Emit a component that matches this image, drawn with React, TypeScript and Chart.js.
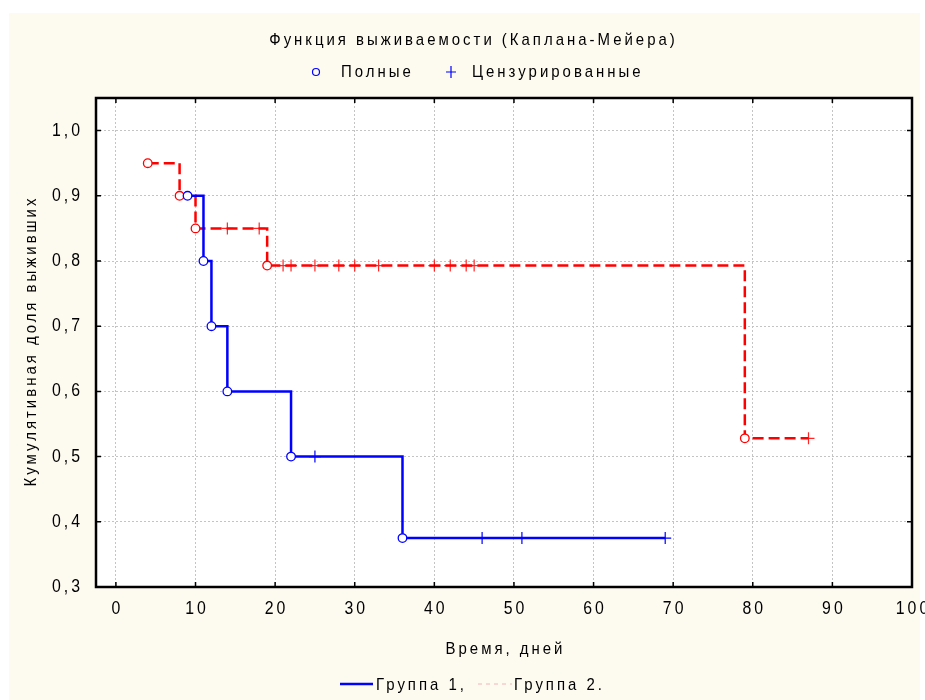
import React, { useEffect, useRef } from 'react';
import { Chart, registerables } from 'chart.js';

Chart.register(...registerables);

// ---- texts ----
const TITLE = 'Функция выживаемости (Каплана-Мейера)';
const X_TITLE = 'Время, дней';
const Y_TITLE = 'Кумулятивная доля выживших';
const MARKER_LABELS = ['Полные', 'Цензурированные'];
const GROUP_LABELS = ['Группа 1,', 'Группа 2.'];

// ---- ticks ----
const X_TICKS = [0, 10, 20, 30, 40, 50, 60, 70, 80, 90, 100];
const Y_TICKS = [0.3, 0.4, 0.5, 0.6, 0.7, 0.8, 0.9, 1.0];

// ---- group 1 (complete / censored) ----
const g1EventTimes = [9, 11, 12, 14, 22, 36];
const g1EventSurv = [0.9, 0.8, 0.7, 0.6, 0.5, 0.375];
const g1CensTimes = [25, 46, 51, 69];
const g1CensSurv = [0.5, 0.375, 0.375, 0.375];

// ---- group 2 (complete / censored) ----
const g2EventTimes = [4, 8, 10, 19, 79];
const g2EventSurv = [0.95, 0.9, 0.85, 0.793, 0.528];
const g2CensTimes = [14, 18, 21, 22, 25, 28, 30, 33, 40, 42, 44, 45, 87];
const g2CensSurv = [0.85, 0.85, 0.793, 0.793, 0.793, 0.793, 0.793, 0.793, 0.793, 0.793, 0.793, 0.793, 0.528];

const toPts = (xs: number[], ys: number[]) => xs.map((x, i) => ({ x, y: ys[i] }));
const curve = (ex: number[], ey: number[], cx: number[], cy: number[]) =>
  [...toPts(ex, ey), ...toPts(cx, cy)].sort((a, b) => a.x - b.x);

const FONT = '"Liberation Sans", Arial, sans-serif';
const BLUE = '#0000ff';
const RED = '#ff0000';
const CREAM = '#fdfaf0';
const SX = 0.88;
const LS = 3.4;

function drawText(
  ctx: CanvasRenderingContext2D,
  text: string,
  x: number,
  y: number,
  size: number,
  align: 'left' | 'center' | 'right',
  rotate = 0
) {
  ctx.save();
  ctx.font = `${size}px ${FONT}`;
  (ctx as any).letterSpacing = `${LS}px`;
  ctx.fillStyle = '#000';
  ctx.translate(x, y);
  if (rotate) ctx.rotate(rotate);
  ctx.scale(SX, 1);
  const w = ctx.measureText(text).width - LS;
  const dx = align === 'center' ? -w / 2 : align === 'right' ? -w : 0;
  ctx.textAlign = 'left';
  ctx.textBaseline = 'middle';
  ctx.fillText(text, dx, 0);
  ctx.restore();
}

const decorPlugin = {
  id: 'decor',
  beforeDraw(chart: any) {
    const { ctx, chartArea: a, width, height } = chart;
    ctx.save();
    ctx.fillStyle = '#ffffff';
    ctx.fillRect(0, 0, width, height);
    ctx.fillStyle = CREAM;
    ctx.fillRect(9, 13, 911, height - 13);
    ctx.fillStyle = '#ffffff';
    ctx.fillRect(a.left, a.top, a.right - a.left, a.bottom - a.top);
    ctx.restore();
  },
  beforeDatasetsDraw(chart: any) {
    const { ctx, chartArea: a, scales } = chart;
    ctx.save();
    ctx.strokeStyle = '#000';
    ctx.lineWidth = 1.5;
    ctx.beginPath();
    X_TICKS.forEach((v) => {
      const px = scales.x.getPixelForValue(v);
      ctx.moveTo(px, a.top);
      ctx.lineTo(px, a.top + 5);
      ctx.moveTo(px, a.bottom);
      ctx.lineTo(px, a.bottom - 5);
    });
    Y_TICKS.forEach((v) => {
      const py = scales.y.getPixelForValue(v);
      ctx.moveTo(a.left, py);
      ctx.lineTo(a.left + 5, py);
      ctx.moveTo(a.right, py);
      ctx.lineTo(a.right - 5, py);
    });
    ctx.stroke();
    ctx.lineWidth = 2.5;
    ctx.strokeRect(a.left, a.top, a.right - a.left, a.bottom - a.top);
    ctx.restore();

    // tick labels
    X_TICKS.forEach((v) => {
      drawText(ctx, String(v), scales.x.getPixelForValue(v), a.bottom + 22, 18, 'center');
    });
    Y_TICKS.forEach((v) => {
      drawText(ctx, v.toFixed(1).replace('.', ','), a.left - 16, scales.y.getPixelForValue(v), 18, 'right');
    });
  },
  afterDraw(chart: any) {
    const { ctx, chartArea: a } = chart;
    // title
    drawText(ctx, TITLE, 472, 40, 17, 'center');

    // marker legend
    ctx.save();
    ctx.strokeStyle = BLUE;
    ctx.lineWidth = 1.2;
    ctx.beginPath();
    ctx.arc(316, 72, 3.5, 0, Math.PI * 2);
    ctx.stroke();
    ctx.beginPath();
    ctx.moveTo(451, 66);
    ctx.lineTo(451, 78);
    ctx.moveTo(446, 72);
    ctx.lineTo(456, 72);
    ctx.stroke();
    ctx.restore();
    drawText(ctx, MARKER_LABELS[0], 341, 72, 17, 'left');
    drawText(ctx, MARKER_LABELS[1], 472, 72, 17, 'left');

    // axis titles
    drawText(ctx, X_TITLE, (a.left + a.right) / 2, 649, 17, 'center');
    drawText(ctx, Y_TITLE, 31, (a.top + a.bottom) / 2, 17, 'center', -Math.PI / 2);

    // group legend
    ctx.save();
    ctx.strokeStyle = BLUE;
    ctx.lineWidth = 2.5;
    ctx.beginPath();
    ctx.moveTo(340, 684);
    ctx.lineTo(373, 684);
    ctx.stroke();
    ctx.strokeStyle = '#f4b4b4';
    ctx.lineWidth = 1;
    ctx.setLineDash([4, 4]);
    ctx.beginPath();
    ctx.moveTo(478, 684);
    ctx.lineTo(512, 684);
    ctx.stroke();
    ctx.restore();
    drawText(ctx, GROUP_LABELS[0], 376, 685, 17, 'left');
    drawText(ctx, GROUP_LABELS[1], 514, 685, 17, 'left');
  },
};

export default function App() {
  const ref = useRef<HTMLCanvasElement>(null);

  useEffect(() => {
    const canvas = ref.current!;
    const chart = new Chart(canvas, {
      type: 'scatter',
      data: {
        datasets: [
          {
            label: 'g1 events',
            data: toPts(g1EventTimes, g1EventSurv),
            pointStyle: 'circle',
            pointRadius: 4.3,
            pointBorderWidth: 1.3,
            borderColor: BLUE,
            backgroundColor: '#ffffff',
            order: 1,
          },
          {
            label: 'g2 events',
            data: toPts(g2EventTimes, g2EventSurv),
            pointStyle: 'circle',
            pointRadius: 4.3,
            pointBorderWidth: 1.3,
            borderColor: RED,
            backgroundColor: '#ffffff',
            order: 1,
          },
          {
            label: 'g1 censored',
            data: toPts(g1CensTimes, g1CensSurv),
            pointStyle: 'cross',
            pointRadius: 6,
            pointBorderWidth: 1.2,
            borderColor: BLUE,
            backgroundColor: BLUE,
            order: 2,
          },
          {
            label: 'g2 censored',
            data: toPts(g2CensTimes, g2CensSurv),
            pointStyle: 'cross',
            pointRadius: 6,
            pointBorderWidth: 1.2,
            borderColor: 'rgba(255,0,0,0.85)',
            backgroundColor: RED,
            order: 2,
          },
          {
            label: 'Группа 1',
            data: curve(g1EventTimes, g1EventSurv, g1CensTimes, g1CensSurv),
            showLine: true,
            stepped: true,
            borderColor: BLUE,
            borderWidth: 2.5,
            pointRadius: 0,
            fill: false,
            order: 3,
          } as any,
          {
            label: 'Группа 2',
            data: curve(g2EventTimes, g2EventSurv, g2CensTimes, g2CensSurv),
            showLine: true,
            stepped: true,
            borderColor: RED,
            borderWidth: 2.5,
            borderDash: [11, 5],
            pointRadius: 0,
            fill: false,
            order: 3,
          } as any,
        ],
      },
      options: {
        responsive: false,
        animation: false,
        devicePixelRatio: 1,
        layout: { padding: { left: 0, top: 98, right: 13, bottom: 73 } },
        plugins: {
          legend: { display: false },
          title: { display: false },
          tooltip: { enabled: false },
        },
        scales: {
          x: {
            type: 'linear',
            min: -2.5,
            max: 100,
            afterBuildTicks: (s: any) => {
              s.ticks = X_TICKS.map((v) => ({ value: v }));
            },
            afterFit: (s: any) => {
              s.height = 40;
              s.paddingLeft = 0;
              s.paddingRight = 0;
            },
            ticks: { display: false },
            grid: { color: '#c4c4c4', lineWidth: 1, drawTicks: false },
            border: { display: false, dash: [2, 2] },
          },
          y: {
            type: 'linear',
            min: 0.3,
            max: 1.05,
            afterBuildTicks: (s: any) => {
              s.ticks = Y_TICKS.map((v) => ({ value: v }));
            },
            afterFit: (s: any) => {
              s.width = 96;
              s.paddingTop = 0;
              s.paddingBottom = 0;
            },
            ticks: { display: false },
            grid: { color: '#c4c4c4', lineWidth: 1, drawTicks: false },
            border: { display: false, dash: [2, 2] },
          },
        },
      },
      plugins: [decorPlugin],
    });
    return () => chart.destroy();
  }, []);

  return (
    <div style={{ position: 'absolute', left: 0, top: 0, width: 925, height: 700 }}>
      <canvas ref={ref} width={925} height={700} style={{ display: 'block', width: 925, height: 700 }} />
    </div>
  );
}
